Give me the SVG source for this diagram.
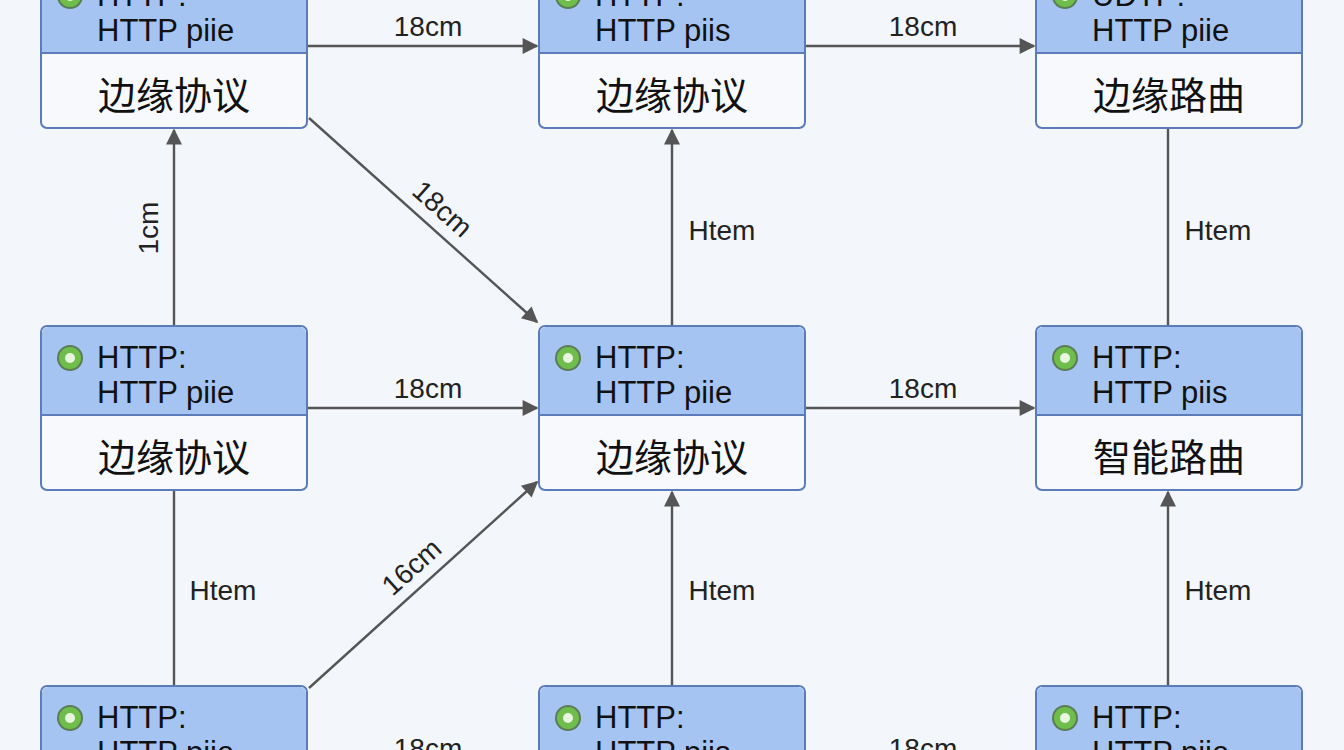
<svg xmlns="http://www.w3.org/2000/svg" width="1344" height="750" viewBox="0 0 1344 750">
<defs>
<style>
.box{fill:#f7f9fd;stroke:#5b7cb8;stroke-width:2}
.hd{fill:#a6c4f2}
.sep{stroke:#5b7cb8;stroke-width:2}
.t{font-family:"Liberation Sans",Arial,sans-serif;font-size:31px;fill:#111}
.c{font-family:"Noto Sans CJK SC",sans-serif;font-size:38px;fill:#111;text-anchor:middle}
.l{font-family:"Liberation Sans",Arial,sans-serif;font-size:28px;fill:#222;text-anchor:middle}
.e{stroke:#555;stroke-width:2.4;fill:none}
</style>
<marker id="a" viewBox="0 0 10 10" refX="9" refY="5" markerWidth="18" markerHeight="16" markerUnits="userSpaceOnUse" orient="auto"><path d="M0,0L10,5L0,10z" fill="#555"/></marker>
<g id="gear"><circle r="13" fill="#5b7d55"/><circle r="11" fill="#6fbd4a"/><circle r="5" fill="#e8f5e0"/></g>
</defs>
<rect width="1344" height="750" fill="#f3f6fb"/>
<g id="connectors">
<path class="e" d="M307,46H537" marker-end="url(#a)"/><text class="l" x="428" y="36">18cm</text>
<path class="e" d="M805,46H1034" marker-end="url(#a)"/><text class="l" x="923" y="36">18cm</text>
<path class="e" d="M174,326V130" marker-end="url(#a)"/><text class="l" transform="translate(158,228) rotate(-90)">1cm</text>
<path class="e" d="M309,118L537,322" marker-end="url(#a)"/><text class="l" transform="translate(436,216) rotate(41.8)">18cm</text>
<path class="e" d="M672,326V130" marker-end="url(#a)"/><text class="l" x="722" y="240">Htem</text>
<path class="e" d="M1168,326V128"/><text class="l" x="1218" y="240">Htem</text>
<path class="e" d="M307,408H537" marker-end="url(#a)"/><text class="l" x="428" y="398">18cm</text>
<path class="e" d="M805,408H1034" marker-end="url(#a)"/><text class="l" x="923" y="398">18cm</text>
<path class="e" d="M174,490V686"/><text class="l" x="223" y="600">Htem</text>
<path class="e" d="M309,688L537,482" marker-end="url(#a)"/><text class="l" transform="translate(418,574) rotate(-42)">16cm</text>
<path class="e" d="M672,686V492" marker-end="url(#a)"/><text class="l" x="722" y="600">Htem</text>
<path class="e" d="M1168,686V492" marker-end="url(#a)"/><text class="l" x="1218" y="600">Htem</text>
<path class="e" d="M307,770H537" marker-end="url(#a)"/><text class="l" x="428" y="758">18cm</text>
<path class="e" d="M805,770H1034" marker-end="url(#a)"/><text class="l" x="923" y="758">18cm</text>
</g>
<g id="n1" transform="translate(41,-36)"><rect class="box" width="266" height="164" rx="6"/><path class="hd" d="M7,1H259a6,6 0 0 1 6,6V89H1V7a6,6 0 0 1 6-6z"/><path class="sep" d="M0,89H266"/><use href="#gear" x="29" y="32"/><text class="t" x="56" y="42">HTTP:</text><text class="t" x="56" y="77">HTTP piie</text><text class="c" x="133" y="145">边缘协议</text></g>
<g id="n2" transform="translate(539,-36)"><rect class="box" width="266" height="164" rx="6"/><path class="hd" d="M7,1H259a6,6 0 0 1 6,6V89H1V7a6,6 0 0 1 6-6z"/><path class="sep" d="M0,89H266"/><use href="#gear" x="29" y="32"/><text class="t" x="56" y="42">HTTP:</text><text class="t" x="56" y="77">HTTP piis</text><text class="c" x="133" y="145">边缘协议</text></g>
<g id="n3" transform="translate(1036,-36)"><rect class="box" width="266" height="164" rx="6"/><path class="hd" d="M7,1H259a6,6 0 0 1 6,6V89H1V7a6,6 0 0 1 6-6z"/><path class="sep" d="M0,89H266"/><use href="#gear" x="29" y="32"/><text class="t" x="56" y="42">UDTP:</text><text class="t" x="56" y="77">HTTP piie</text><text class="c" x="133" y="145">边缘路曲</text></g>
<g id="n4" transform="translate(41,326)"><rect class="box" width="266" height="164" rx="6"/><path class="hd" d="M7,1H259a6,6 0 0 1 6,6V89H1V7a6,6 0 0 1 6-6z"/><path class="sep" d="M0,89H266"/><use href="#gear" x="29" y="32"/><text class="t" x="56" y="42">HTTP:</text><text class="t" x="56" y="77">HTTP piie</text><text class="c" x="133" y="145">边缘协议</text></g>
<g id="n5" transform="translate(539,326)"><rect class="box" width="266" height="164" rx="6"/><path class="hd" d="M7,1H259a6,6 0 0 1 6,6V89H1V7a6,6 0 0 1 6-6z"/><path class="sep" d="M0,89H266"/><use href="#gear" x="29" y="32"/><text class="t" x="56" y="42">HTTP:</text><text class="t" x="56" y="77">HTTP piie</text><text class="c" x="133" y="145">边缘协议</text></g>
<g id="n6" transform="translate(1036,326)"><rect class="box" width="266" height="164" rx="6"/><path class="hd" d="M7,1H259a6,6 0 0 1 6,6V89H1V7a6,6 0 0 1 6-6z"/><path class="sep" d="M0,89H266"/><use href="#gear" x="29" y="32"/><text class="t" x="56" y="42">HTTP:</text><text class="t" x="56" y="77">HTTP piis</text><text class="c" x="133" y="145">智能路曲</text></g>
<g id="n7" transform="translate(41,686)"><rect class="box" width="266" height="164" rx="6"/><path class="hd" d="M7,1H259a6,6 0 0 1 6,6V89H1V7a6,6 0 0 1 6-6z"/><path class="sep" d="M0,89H266"/><use href="#gear" x="29" y="32"/><text class="t" x="56" y="42">HTTP:</text><text class="t" x="56" y="77">HTTP piie</text></g>
<g id="n8" transform="translate(539,686)"><rect class="box" width="266" height="164" rx="6"/><path class="hd" d="M7,1H259a6,6 0 0 1 6,6V89H1V7a6,6 0 0 1 6-6z"/><path class="sep" d="M0,89H266"/><use href="#gear" x="29" y="32"/><text class="t" x="56" y="42">HTTP:</text><text class="t" x="56" y="77">HTTP piis</text></g>
<g id="n9" transform="translate(1036,686)"><rect class="box" width="266" height="164" rx="6"/><path class="hd" d="M7,1H259a6,6 0 0 1 6,6V89H1V7a6,6 0 0 1 6-6z"/><path class="sep" d="M0,89H266"/><use href="#gear" x="29" y="32"/><text class="t" x="56" y="42">HTTP:</text><text class="t" x="56" y="77">HTTP piie</text></g>
</svg>
